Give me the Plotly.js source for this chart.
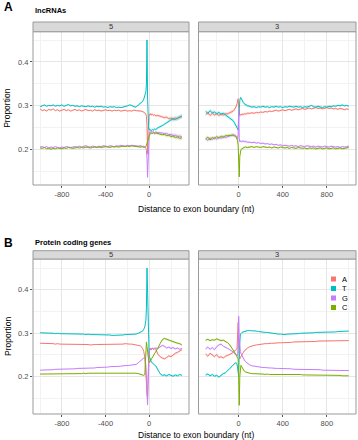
<!DOCTYPE html>
<html>
<head>
<meta charset="utf-8">
<script src="https://cdn.plot.ly/plotly-3.0.1.min.js"></script>
<style>
  html, body { margin: 0; padding: 0; background: #ffffff; }
  #chart { width: 358px; height: 440px; }
</style>
</head>
<body>
<div id="chart"></div>
<script>
// Nucleotide composition around exon boundaries (5' and 3' sides),
// for lncRNAs (top row) and protein coding genes (bottom row).

const bases = ['A', 'T', 'G', 'C'];
const baseColors = { A: '#F8766D', T: '#00BFC4', G: '#C77CFF', C: '#7CAE00' };

// Positions (nt) relative to the exon boundary
const xFive = [
  -1000,-980,-960,-940,-920,-900,-880,-860,-840,-820,
  -800,-780,-760,-740,-720,-700,-680,-660,-640,-620,
  -600,-580,-560,-540,-520,-500,-480,-460,-440,-420,
  -400,-380,-360,-340,-320,-300,-280,-260,-240,-220,
  -200,-180,-160,-140,-120,
  -100,-80,-60,-50,-40,-30,-25,-20,-15,-10,
  -5,0,5,10,15,20,30,40,50,60,80,
  100,120,140,160,180,200,220,240,260,280,300
];
const xThree = [
  -300,-280,-260,-240,-220,-200,-180,-160,-140,-120,
  -100,-80,-60,-50,-40,-30,-20,-15,-10,-5,
  0,5,10,15,20,25,30,40,50,60,80,
  100,120,140,160,180,200,220,240,260,280,
  300,320,340,360,380,400,420,440,460,480,
  500,520,540,560,580,600,620,640,660,680,
  700,720,740,760,780,800,820,840,860,880,
  900,920,940,960,980,1000
];

// ---- lncRNAs, 5' side ----
const lnc5_A = [
  0.293,0.289,0.291,0.288,0.292,0.290,0.293,0.289,0.291,0.288,
  0.290,0.292,0.289,0.291,0.288,0.290,0.292,0.289,0.291,0.288,
  0.290,0.292,0.289,0.290,0.288,0.291,0.289,0.290,0.288,0.290,
  0.291,0.289,0.290,0.288,0.290,0.289,0.290,0.288,0.289,0.290,
  0.288,0.289,0.288,0.290,0.289,
  0.289,0.288,0.287,0.286,0.284,0.281,0.276,0.255,0.190,0.240,
  0.274,0.280,0.281,0.279,0.282,0.279,0.281,0.278,0.280,0.277,0.278,
  0.276,0.275,0.273,0.274,0.271,0.272,0.270,0.272,0.271,0.274,0.275
];
const lnc5_T = [
  0.298,0.300,0.302,0.299,0.301,0.300,0.302,0.299,0.301,0.300,
  0.302,0.299,0.301,0.303,0.300,0.301,0.299,0.300,0.298,0.300,
  0.299,0.298,0.300,0.298,0.299,0.297,0.299,0.298,0.299,0.297,
  0.298,0.296,0.298,0.297,0.298,0.296,0.297,0.296,0.297,0.298,
  0.300,0.302,0.301,0.298,0.297,
  0.302,0.305,0.310,0.315,0.322,0.332,0.350,0.450,0.320,0.270,
  0.250,0.246,0.245,0.244,0.245,0.244,0.246,0.245,0.247,0.246,0.250,
  0.252,0.255,0.258,0.262,0.265,0.268,0.270,0.269,0.272,0.275,0.277
];
const lnc5_G = [
  0.206,0.207,0.205,0.207,0.204,0.206,0.205,0.207,0.205,0.204,
  0.206,0.205,0.207,0.206,0.205,0.206,0.207,0.206,0.208,0.206,
  0.207,0.209,0.207,0.206,0.208,0.207,0.206,0.208,0.207,0.209,
  0.208,0.207,0.209,0.208,0.207,0.209,0.208,0.210,0.209,0.208,
  0.210,0.209,0.210,0.209,0.208,
  0.208,0.209,0.207,0.208,0.206,0.203,0.198,0.180,0.137,0.195,
  0.226,0.236,0.240,0.241,0.239,0.242,0.240,0.241,0.238,0.240,0.239,
  0.239,0.238,0.236,0.237,0.234,0.235,0.232,0.233,0.230,0.231,0.229
];
const lnc5_C = [
  0.204,0.203,0.205,0.202,0.203,0.201,0.203,0.202,0.204,0.203,
  0.202,0.204,0.203,0.205,0.204,0.203,0.204,0.205,0.204,0.205,
  0.204,0.206,0.205,0.204,0.205,0.206,0.205,0.206,0.205,0.206,
  0.207,0.206,0.205,0.207,0.206,0.207,0.206,0.207,0.208,0.207,
  0.208,0.207,0.209,0.208,0.207,
  0.207,0.206,0.207,0.205,0.206,0.207,0.210,0.215,0.222,0.226,
  0.230,0.233,0.235,0.237,0.236,0.238,0.237,0.239,0.236,0.238,0.237,
  0.236,0.234,0.235,0.232,0.233,0.230,0.231,0.228,0.229,0.226,0.227
];
const lnc5_se = [
  0.0015,0.0015,0.0015,0.0015,0.0015,0.0015,0.0015,0.0015,0.0015,0.0015,
  0.0015,0.0015,0.0015,0.0015,0.0015,0.0015,0.0015,0.0015,0.0015,0.0015,
  0.0015,0.0015,0.0015,0.0015,0.0015,0.0015,0.0015,0.0015,0.0015,0.0015,
  0.0015,0.0015,0.0015,0.0015,0.0015,0.0015,0.0015,0.0015,0.0015,0.0015,
  0.0015,0.0015,0.0015,0.0015,0.0015,
  0.002,0.002,0.002,0.002,0.002,0.002,0.002,0.002,0.002,0.002,
  0.003,0.003,0.003,0.003,0.003,0.003,0.003,0.003,0.003,0.003,0.003,
  0.003,0.003,0.004,0.004,0.004,0.004,0.005,0.005,0.005,0.005,0.005
];

// ---- lncRNAs, 3' side ----
const lnc3_A = [
  0.280,0.284,0.278,0.283,0.279,0.282,0.278,0.281,0.279,0.282,
  0.282,0.284,0.286,0.288,0.291,0.295,0.300,0.305,0.312,0.316,
  0.295,0.280,0.278,0.279,0.280,0.279,0.281,0.280,0.282,0.281,0.283,
  0.283,0.284,0.283,0.285,0.284,0.286,0.285,0.287,0.286,0.288,
  0.287,0.288,0.290,0.288,0.289,0.291,0.289,0.290,0.292,0.290,
  0.291,0.293,0.291,0.292,0.294,0.292,0.293,0.295,0.293,0.294,
  0.296,0.294,0.295,0.293,0.295,0.296,0.294,0.295,0.293,0.294,
  0.292,0.294,0.293,0.291,0.293,0.292
];
const lnc3_T = [
  0.287,0.283,0.289,0.284,0.286,0.282,0.285,0.281,0.283,0.279,
  0.276,0.273,0.268,0.266,0.262,0.258,0.254,0.251,0.248,0.245,
  0.270,0.300,0.312,0.318,0.319,0.316,0.312,0.308,0.305,0.303,0.300,
  0.299,0.297,0.298,0.296,0.298,0.297,0.299,0.297,0.298,0.296,
  0.298,0.297,0.299,0.297,0.298,0.296,0.298,0.297,0.299,0.298,
  0.297,0.299,0.297,0.298,0.296,0.298,0.297,0.299,0.301,0.298,
  0.297,0.299,0.298,0.296,0.298,0.297,0.299,0.298,0.300,0.299,
  0.301,0.300,0.302,0.300,0.301,0.299
];
const lnc3_G = [
  0.226,0.221,0.227,0.223,0.228,0.224,0.229,0.226,0.230,0.228,
  0.230,0.232,0.233,0.234,0.233,0.232,0.230,0.228,0.225,0.235,
  0.290,0.225,0.218,0.219,0.220,0.218,0.219,0.220,0.218,0.219,0.217,
  0.217,0.216,0.217,0.215,0.216,0.214,0.215,0.213,0.214,0.212,
  0.213,0.211,0.212,0.210,0.211,0.209,0.210,0.209,0.208,0.210,
  0.208,0.209,0.207,0.209,0.208,0.207,0.209,0.208,0.207,0.208,
  0.206,0.208,0.207,0.206,0.208,0.207,0.206,0.208,0.207,0.206,
  0.207,0.205,0.207,0.206,0.207,0.208
];
const lnc3_C = [
  0.224,0.229,0.222,0.228,0.225,0.230,0.226,0.231,0.228,0.232,
  0.232,0.233,0.234,0.233,0.232,0.231,0.228,0.225,0.220,0.210,
  0.175,0.138,0.185,0.196,0.200,0.201,0.203,0.204,0.205,0.206,0.205,
  0.206,0.207,0.205,0.207,0.206,0.205,0.207,0.206,0.205,0.206,
  0.204,0.206,0.205,0.204,0.206,0.205,0.204,0.205,0.203,0.205,
  0.204,0.203,0.205,0.204,0.203,0.204,0.202,0.204,0.203,0.204,
  0.202,0.203,0.204,0.202,0.203,0.204,0.202,0.203,0.204,0.202,
  0.203,0.204,0.202,0.203,0.204,0.205
];
const lnc3_se = [
  0.004,0.004,0.004,0.004,0.004,0.004,0.004,0.004,0.004,0.004,
  0.004,0.004,0.004,0.004,0.004,0.004,0.004,0.004,0.004,0.004,
  0.003,0.003,0.003,0.003,0.003,0.003,0.003,0.003,0.003,0.003,0.003,
  0.002,0.002,0.002,0.002,0.002,0.002,0.002,0.002,0.002,0.002,
  0.002,0.002,0.002,0.002,0.002,0.002,0.002,0.002,0.002,0.002,
  0.002,0.002,0.002,0.002,0.002,0.002,0.002,0.002,0.002,0.002,
  0.002,0.002,0.002,0.002,0.002,0.002,0.002,0.002,0.002,0.002,
  0.002,0.002,0.002,0.002,0.002,0.002
];

// ---- Protein coding genes, 5' side ----
const pc5_A = [
  0.277,0.277,0.276,0.277,0.276,0.276,0.276,0.275,0.276,0.275,
  0.275,0.275,0.275,0.274,0.275,0.274,0.274,0.274,0.274,0.274,
  0.274,0.274,0.274,0.273,0.274,0.274,0.274,0.274,0.274,0.274,
  0.274,0.274,0.275,0.274,0.275,0.275,0.275,0.275,0.275,0.276,
  0.275,0.275,0.275,0.274,0.274,
  0.273,0.271,0.265,0.258,0.245,0.215,0.185,0.160,0.150,0.200,
  0.250,0.262,0.265,0.264,0.266,0.263,0.266,0.264,0.266,0.263,0.252,
  0.246,0.243,0.241,0.244,0.248,0.246,0.251,0.254,0.256,0.259,0.262
];
const pc5_T = [
  0.301,0.301,0.300,0.301,0.300,0.300,0.300,0.299,0.300,0.299,
  0.299,0.299,0.299,0.298,0.299,0.298,0.298,0.298,0.298,0.298,
  0.298,0.297,0.298,0.297,0.297,0.297,0.297,0.297,0.296,0.297,
  0.296,0.296,0.296,0.295,0.295,0.295,0.295,0.296,0.296,0.297,
  0.297,0.297,0.298,0.298,0.298,
  0.300,0.302,0.305,0.309,0.315,0.330,0.360,0.450,0.380,0.300,
  0.255,0.248,0.244,0.240,0.236,0.234,0.231,0.228,0.227,0.225,0.215,
  0.207,0.203,0.204,0.202,0.205,0.203,0.201,0.204,0.202,0.205,0.203
];
const pc5_G = [
  0.215,0.215,0.215,0.216,0.216,0.216,0.216,0.217,0.217,0.217,
  0.217,0.217,0.218,0.218,0.218,0.218,0.218,0.219,0.219,0.219,
  0.219,0.219,0.220,0.220,0.220,0.220,0.221,0.221,0.221,0.222,
  0.222,0.222,0.223,0.223,0.223,0.224,0.224,0.224,0.225,0.225,
  0.226,0.226,0.227,0.227,0.228,
  0.232,0.236,0.240,0.243,0.245,0.225,0.190,0.150,0.135,0.180,
  0.240,0.258,0.263,0.262,0.264,0.262,0.265,0.263,0.264,0.266,0.265,
  0.268,0.272,0.270,0.266,0.268,0.265,0.267,0.264,0.266,0.263,0.265
];
const pc5_C = [
  0.206,0.206,0.206,0.206,0.206,0.206,0.206,0.207,0.206,0.207,
  0.207,0.207,0.207,0.207,0.207,0.207,0.207,0.207,0.207,0.207,
  0.208,0.207,0.208,0.208,0.208,0.208,0.208,0.208,0.208,0.208,
  0.208,0.208,0.209,0.208,0.209,0.209,0.209,0.209,0.209,0.209,
  0.209,0.209,0.209,0.208,0.208,
  0.207,0.206,0.204,0.203,0.205,0.275,0.280,0.270,0.255,0.245,
  0.238,0.234,0.233,0.236,0.238,0.240,0.245,0.249,0.254,0.258,0.266,
  0.276,0.285,0.288,0.286,0.284,0.283,0.280,0.279,0.277,0.276,0.273
];
const pc5_se = [
  0.0005,0.0005,0.0005,0.0005,0.0005,0.0005,0.0005,0.0005,0.0005,0.0005,
  0.0005,0.0005,0.0005,0.0005,0.0005,0.0005,0.0005,0.0005,0.0005,0.0005,
  0.0005,0.0005,0.0005,0.0005,0.0005,0.0005,0.0005,0.0005,0.0005,0.0005,
  0.0005,0.0005,0.0005,0.0005,0.0005,0.0005,0.0005,0.0005,0.0005,0.0005,
  0.0005,0.0005,0.0005,0.0005,0.0005,
  0.001,0.001,0.001,0.001,0.001,0.001,0.001,0.001,0.001,0.001,
  0.0015,0.0015,0.0015,0.0015,0.0015,0.0015,0.0015,0.0015,0.0015,0.0015,0.002,
  0.002,0.0025,0.0025,0.0025,0.0025,0.0025,0.0025,0.0025,0.0025,0.0025,0.0025
];

// ---- Protein coding genes, 3' side ----
const pc3_A = [
  0.252,0.247,0.254,0.249,0.246,0.251,0.244,0.246,0.243,0.247,
  0.249,0.251,0.254,0.256,0.258,0.261,0.263,0.266,0.285,0.325,
  0.270,0.245,0.241,0.244,0.247,0.249,0.251,0.255,0.259,0.262,0.266,
  0.269,0.271,0.272,0.273,0.274,0.275,0.275,0.276,0.276,0.277,
  0.277,0.277,0.278,0.278,0.278,0.278,0.279,0.279,0.279,0.279,
  0.280,0.280,0.280,0.280,0.280,0.281,0.281,0.281,0.281,0.281,
  0.281,0.282,0.282,0.282,0.282,0.282,0.282,0.282,0.283,0.283,
  0.283,0.283,0.283,0.283,0.283,0.283
];
const pc3_T = [
  0.204,0.206,0.202,0.205,0.201,0.203,0.199,0.204,0.207,0.209,
  0.215,0.219,0.224,0.226,0.229,0.232,0.231,0.228,0.220,0.205,
  0.200,0.260,0.290,0.296,0.299,0.301,0.302,0.303,0.304,0.305,0.306,
  0.306,0.306,0.305,0.305,0.304,0.303,0.303,0.302,0.302,0.301,
  0.300,0.299,0.299,0.298,0.298,0.297,0.297,0.298,0.298,0.298,
  0.299,0.299,0.299,0.300,0.300,0.300,0.301,0.301,0.301,0.301,
  0.302,0.302,0.302,0.302,0.302,0.303,0.303,0.303,0.303,0.303,
  0.304,0.304,0.304,0.304,0.305,0.305
];
const pc3_G = [
  0.264,0.268,0.263,0.267,0.262,0.269,0.273,0.275,0.270,0.268,
  0.265,0.262,0.259,0.257,0.255,0.252,0.249,0.247,0.248,0.270,
  0.339,0.290,0.264,0.258,0.254,0.251,0.248,0.243,0.239,0.235,0.230,
  0.227,0.225,0.224,0.223,0.222,0.222,0.221,0.221,0.220,0.220,
  0.220,0.219,0.219,0.219,0.219,0.218,0.218,0.218,0.218,0.218,
  0.217,0.217,0.217,0.217,0.217,0.217,0.216,0.216,0.216,0.216,
  0.216,0.216,0.216,0.215,0.215,0.215,0.215,0.215,0.215,0.215,
  0.214,0.214,0.214,0.214,0.214,0.214
];
const pc3_C = [
  0.284,0.286,0.283,0.285,0.284,0.287,0.285,0.283,0.284,0.281,
  0.278,0.273,0.266,0.262,0.258,0.253,0.248,0.245,0.243,0.241,
  0.200,0.134,0.200,0.222,0.226,0.224,0.221,0.216,0.213,0.211,0.209,
  0.208,0.207,0.207,0.206,0.206,0.206,0.206,0.205,0.206,0.205,
  0.205,0.205,0.205,0.206,0.206,0.206,0.206,0.205,0.205,0.205,
  0.205,0.205,0.205,0.205,0.204,0.204,0.204,0.204,0.204,0.204,
  0.204,0.204,0.204,0.204,0.203,0.203,0.203,0.203,0.203,0.203,
  0.203,0.203,0.202,0.202,0.202,0.202
];
const pc3_se = [
  0.0025,0.0025,0.0025,0.0025,0.0025,0.0025,0.0025,0.0025,0.0025,0.0025,
  0.002,0.002,0.002,0.002,0.002,0.002,0.002,0.002,0.002,0.002,
  0.0015,0.0015,0.0015,0.0015,0.0015,0.0015,0.0015,0.0015,0.0015,0.0015,0.0015,
  0.0005,0.0005,0.0005,0.0005,0.0005,0.0005,0.0005,0.0005,0.0005,0.0005,
  0.0005,0.0005,0.0005,0.0005,0.0005,0.0005,0.0005,0.0005,0.0005,0.0005,
  0.0005,0.0005,0.0005,0.0005,0.0005,0.0005,0.0005,0.0005,0.0005,0.0005,
  0.0005,0.0005,0.0005,0.0005,0.0005,0.0005,0.0005,0.0005,0.0005,0.0005,
  0.0005,0.0005,0.0005,0.0005,0.0005,0.0005
];

// Facet labels and panel titles
const facetLabels = ['5', '3'];
const rowTags = ['A', 'B'];
const rowTitles = ['lncRNAs', 'Protein coding genes'];
const xTitle = 'Distance to exon boundary (nt)';
const yTitle = 'Proportion';

// ---------------- layout geometry (pixels) ----------------
const W = 358, H = 440;
const px = v => v / W;
const py = v => 1 - v / H;
const cols = [[33, 189], [198.5, 356]];
const rows = [
  { top: 31.7, bottom: 185, stripTop: 22, yRange: [0.1195, 0.469] },
  { top: 259, bottom: 414, stripTop: 250.7, yRange: [0.114, 0.471] }
];

const panels = [
  { row: 0, col: 0, xs: xFive,  ser: { A: lnc5_A, T: lnc5_T, G: lnc5_G, C: lnc5_C }, se: lnc5_se },
  { row: 0, col: 1, xs: xThree, ser: { A: lnc3_A, T: lnc3_T, G: lnc3_G, C: lnc3_C }, se: lnc3_se },
  { row: 1, col: 0, xs: xFive,  ser: { A: pc5_A,  T: pc5_T,  G: pc5_G,  C: pc5_C  }, se: pc5_se  },
  { row: 1, col: 1, xs: xThree, ser: { A: pc3_A,  T: pc3_T,  G: pc3_G,  C: pc3_C  }, se: pc3_se  }
];

function hexA(hex, a) {
  const n = parseInt(hex.slice(1), 16);
  return `rgba(${(n >> 16) & 255},${(n >> 8) & 255},${n & 255},${a})`;
}

const FONT = 'Liberation Sans, Arial, Helvetica, sans-serif';
const traces = [];
const layout = {
  width: W, height: H,
  margin: { l: 0, r: 0, t: 0, b: 0 },
  paper_bgcolor: '#ffffff',
  plot_bgcolor: '#ffffff',
  showlegend: false,
  font: { family: FONT, size: 7.5, color: '#4d4d4d' },
  shapes: [],
  annotations: []
};

panels.forEach((p, i) => {
  const k = i === 0 ? '' : String(i + 1);
  const xa = 'x' + k, ya = 'y' + k;
  const r = rows[p.row], c = cols[p.col];
  const five = p.col === 0;

  // confidence ribbons
  bases.forEach(b => {
    const y = p.ser[b];
    const up = y.map((v, j) => v + p.se[j]);
    const lo = y.map((v, j) => v - p.se[j]).reverse();
    traces.push({
      x: p.xs.concat(p.xs.slice().reverse()),
      y: up.concat(lo),
      xaxis: xa, yaxis: ya,
      mode: 'lines', fill: 'toself',
      fillcolor: hexA(baseColors[b], 0.2),
      line: { width: 0 }, hoverinfo: 'skip', showlegend: false
    });
  });
  // mean lines
  bases.forEach(b => {
    traces.push({
      x: p.xs, y: p.ser[b],
      xaxis: xa, yaxis: ya,
      mode: 'lines', name: b,
      line: { color: baseColors[b], width: 1 },
      showlegend: false
    });
  });

  const gridMajor = '#e6e6e6', gridMinor = '#f2f2f2';
  layout['xaxis' + k] = {
    domain: [px(c[0]), px(c[1])],
    anchor: ya,
    range: five ? [-1065, 365] : [-365, 1065],
    tickvals: five ? [-800, -400, 0] : [0, 400, 800],
    ticktext: five ? ['-800', '-400', '0'] : ['0', '400', '800'],
    showgrid: true, gridcolor: gridMajor, gridwidth: 1,
    minor: {
      tickvals: five ? [-1000, -600, -200, 200] : [-200, 200, 600, 1000],
      showgrid: true, gridcolor: gridMinor, gridwidth: 1, ticks: ''
    },
    zeroline: false, showline: false,
    ticks: 'outside', ticklen: 2, tickcolor: '#555', tickwidth: 1,
    tickfont: { family: FONT, size: 7.5, color: '#4d4d4d' },
    fixedrange: true
  };
  layout['yaxis' + k] = {
    domain: [py(r.bottom), py(r.top)],
    anchor: xa,
    range: r.yRange,
    tickvals: [0.2, 0.3, 0.4],
    ticktext: five ? ['0.2', '0.3', '0.4'] : ['', '', ''],
    showticklabels: five,
    showgrid: true, gridcolor: gridMajor, gridwidth: 1,
    minor: { tickvals: [0.15, 0.25, 0.35, 0.45], showgrid: true, gridcolor: gridMinor, gridwidth: 1, ticks: '' },
    zeroline: false, showline: false,
    ticks: five ? 'outside' : '', ticklen: 2, tickcolor: '#555', tickwidth: 1,
    tickfont: { family: FONT, size: 7.5, color: '#4d4d4d' },
    fixedrange: true
  };

  // panel border
  layout.shapes.push({
    type: 'rect', xref: 'paper', yref: 'paper', layer: 'above',
    x0: px(c[0]), x1: px(c[1]), y0: py(r.bottom), y1: py(r.top),
    line: { color: '#9a9a9a', width: 1 }, fillcolor: 'rgba(0,0,0,0)'
  });
  // facet strip
  layout.shapes.push({
    type: 'rect', xref: 'paper', yref: 'paper', layer: 'above',
    x0: px(c[0]), x1: px(c[1]), y0: py(r.top), y1: py(r.stripTop),
    line: { color: '#9a9a9a', width: 1 }, fillcolor: '#d9d9d9'
  });
  layout.annotations.push({
    xref: 'paper', yref: 'paper',
    x: px((c[0] + c[1]) / 2), y: py((r.top + r.stripTop) / 2),
    text: facetLabels[p.col], showarrow: false,
    xanchor: 'center', yanchor: 'middle',
    font: { family: FONT, size: 7.5, color: '#333333' }
  });
});

// row tags, row titles and axis titles
rows.forEach((r, ri) => {
  const tagY = ri === 0 ? 7 : 242.5;
  layout.annotations.push({
    xref: 'paper', yref: 'paper', x: px(2), y: py(tagY),
    text: '<b>' + rowTags[ri] + '</b>', showarrow: false,
    xanchor: 'left', yanchor: 'middle',
    font: { family: FONT, size: 12, color: '#000000' }
  });
  layout.annotations.push({
    xref: 'paper', yref: 'paper', x: px(33), y: py(ri === 0 ? 10.5 : 242.5),
    text: '<b>' + rowTitles[ri] + '</b>', showarrow: false,
    xanchor: 'left', yanchor: 'middle',
    font: { family: FONT, size: 7.5, color: '#000000' }
  });
  layout.annotations.push({
    xref: 'paper', yref: 'paper', x: px(196), y: py(ri === 0 ? 209 : 435),
    text: xTitle, showarrow: false,
    xanchor: 'center', yanchor: 'middle',
    font: { family: FONT, size: 8.5, color: '#000000' }
  });
  layout.annotations.push({
    xref: 'paper', yref: 'paper', x: px(7.5), y: py((r.top + r.bottom) / 2),
    text: yTitle, showarrow: false, textangle: -90,
    xanchor: 'center', yanchor: 'middle',
    font: { family: FONT, size: 8.5, color: '#000000' }
  });
});

// legend (inside the lower right panel)
const legendRows = [279, 288.5, 298, 307.5];
bases.forEach((b, i) => {
  const yc = legendRows[i];
  layout.shapes.push({
    type: 'rect', xref: 'paper', yref: 'paper', layer: 'above',
    x0: px(331), x1: px(336), y0: py(yc + 2.5), y1: py(yc - 2.5),
    line: { width: 0 }, fillcolor: baseColors[b]
  });
  layout.annotations.push({
    xref: 'paper', yref: 'paper', x: px(340), y: py(yc),
    text: b, showarrow: false, xanchor: 'left', yanchor: 'middle',
    font: { family: FONT, size: 7.5, color: '#000000' }
  });
});

Plotly.newPlot('chart', traces, layout, { staticPlot: true, displayModeBar: false });
</script>
</body>
</html>
